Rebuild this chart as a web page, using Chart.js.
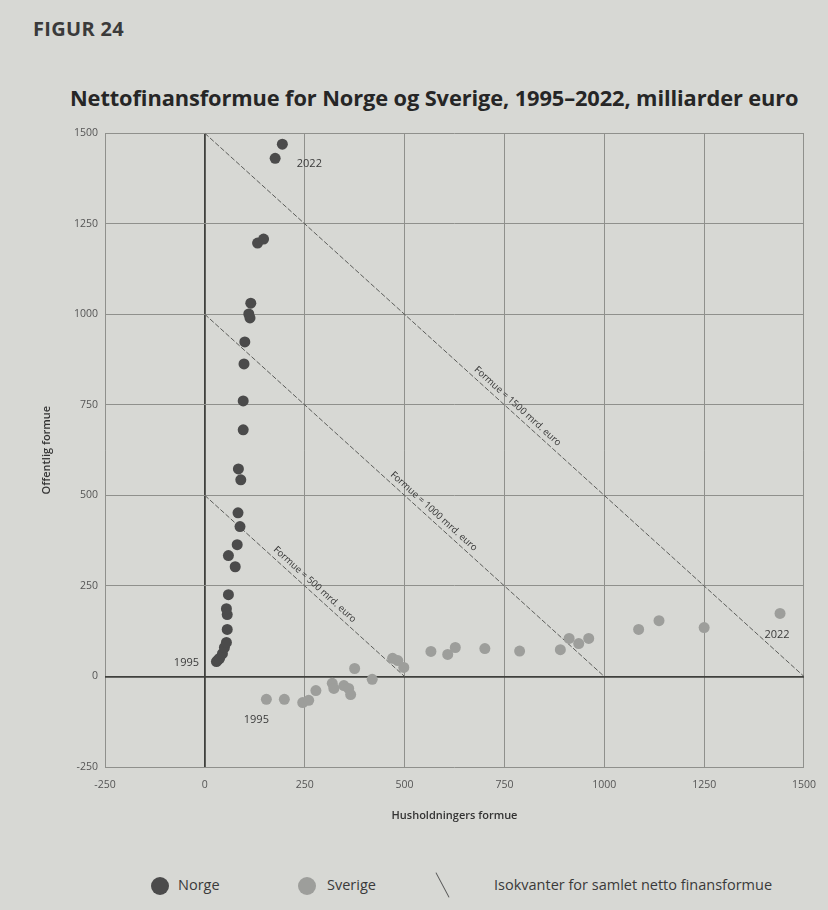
<!DOCTYPE html>
<html>
<head>
<meta charset="utf-8">
<script src="https://cdn.jsdelivr.net/npm/chart.js@4.4.0/dist/chart.umd.min.js"></script>
<style>
  body { margin: 0; width: 828px; height: 910px; overflow: hidden; background: #d7d8d4; font-family: "Open Sans", Lato, sans-serif; position: relative; }
  #fig { position: absolute; left: 33px; top: 15px; font-weight: 700; font-size: 20px; color: #3a3a3a; letter-spacing: 0.3px; }
  #title { position: absolute; left: 70px; top: 83px; font-weight: 700; font-size: 21.8px; color: #262626; white-space: nowrap; letter-spacing: -0.1px; }
  #wrap { position: absolute; left: 0; top: 120px; width: 828px; height: 720px; }
  .lg { position: absolute; top: 875px; font-size: 14.5px; color: #3a3a3a; }
  .dot { position: absolute; width: 18px; height: 18px; border-radius: 50%; top: 877px; }
  #slash { position: absolute; left: 442px; top: 871px; width: 1px; height: 28px; background: #555; transform: rotate(-28deg); }
</style>
</head>
<body>
<div id="fig">FIGUR 24</div>
<div id="title">Nettofinansformue for Norge og Sverige, 1995–2022, milliarder euro</div>
<div id="wrap"><canvas id="chart" width="828" height="720"></canvas></div>
<div class="dot" style="left:151px;background:#4b4b4b"></div>
<div class="lg" style="left:178px">Norge</div>
<div class="dot" style="left:298px;background:#9d9e9b"></div>
<div class="lg" style="left:327px">Sverige</div>
<div id="slash"></div>
<div class="lg" style="left:494px">Isokvanter for samlet netto finansformue</div>
<script>
// Husholdningers formue (x) og offentlig formue (y), milliarder euro, 1995-2022
const norgeX = [29, 33, 37, 44, 49, 54, 56, 56, 54, 59, 76, 59, 81, 88, 83, 90, 84, 96, 96, 98, 100, 113, 110, 115, 132, 147, 176, 194];
const norgeY = [41, 46, 50, 63, 80, 94, 130, 171, 187, 226, 303, 334, 364, 414, 452, 543, 573, 681, 761, 863, 924, 990, 1001, 1031, 1197, 1208, 1431, 1470];
const sverigeX = [154, 199, 245, 260, 278, 319, 323, 348, 360, 365, 375, 419, 470, 483, 498, 566, 608, 627, 701, 788, 890, 912, 936, 961, 1086, 1137, 1250, 1440];
const sverigeY = [-63, -63, -72, -66, -39, -19, -33, -25, -33, -50, 22, -8, 50, 44, 25, 69, 61, 80, 77, 70, 74, 105, 91, 105, 130, 154, 135, 174];
const isokvanter = [500, 1000, 1500];
const isoLabels = ['Formue = 500 mrd. euro', 'Formue = 1000 mrd. euro', 'Formue = 1500 mrd. euro'];
const isoLabelX = [262, 560, 770];
const xTicks = [-250, 0, 250, 500, 750, 1000, 1250, 1500];
const yTicks = [-250, 0, 250, 500, 750, 1000, 1250, 1500];

const toPoints = (xs, ys) => xs.map((x, i) => ({ x: x, y: ys[i] }));

const isoSets = isokvanter.map(v => ({
    type: 'line',
    data: [{ x: 0, y: v }, { x: v, y: 0 }],
    borderColor: '#5c5d5a',
    borderWidth: 1,
    borderDash: [5, 2],
    pointRadius: 0,
    order: 3
}));

// labels on isoquants and year markers
const annotations = {
    id: 'annotations',
    afterDatasetsDraw(chart) {
        const { ctx, scales: { x, y } } = chart;
        ctx.save();
        ctx.fillStyle = '#333';
        ctx.font = '9.5px "Open Sans", sans-serif';
        ctx.textAlign = 'center';
        ctx.textBaseline = 'bottom';
        isokvanter.forEach((v, i) => {
            const ang = Math.atan2(y.getPixelForValue(0) - y.getPixelForValue(v), x.getPixelForValue(v) - x.getPixelForValue(0));
            const lx = isoLabelX[i];
            ctx.save();
            ctx.translate(x.getPixelForValue(lx), y.getPixelForValue(v - lx));
            ctx.rotate(ang);
            ctx.fillText(isoLabels[i], 0, -3);
            ctx.restore();
        });
        ctx.font = '11px "Open Sans", sans-serif';
        ctx.fillStyle = '#3a3a3a';
        ctx.textBaseline = 'middle';
        const n = norgeX.length - 1;
        const s = sverigeX.length - 1;
        ctx.fillText('1995', x.getPixelForValue(norgeX[0]) - 30, y.getPixelForValue(norgeY[0]) + 1);
        ctx.fillText('2022', x.getPixelForValue(norgeX[n]) + 27, y.getPixelForValue(norgeY[n]) + 20);
        ctx.fillText('1995', x.getPixelForValue(sverigeX[0]) - 10, y.getPixelForValue(sverigeY[0]) + 21);
        ctx.fillText('2022', x.getPixelForValue(sverigeX[s]) - 3, y.getPixelForValue(sverigeY[s]) + 21);
        ctx.restore();
    }
};

const gridColor = c => c.tick && c.tick.value === 0 ? '#3f403d' : '#8f908c';
const gridWidth = c => c.tick && c.tick.value === 0 ? 1.8 : 1;
const tickFont = { size: 10.5, family: '"Open Sans"' };
const titleFont = { size: 11, weight: '600', family: '"Open Sans"' };

new Chart(document.getElementById('chart'), {
    type: 'scatter',
    data: {
        datasets: [
            { label: 'Norge', data: toPoints(norgeX, norgeY), backgroundColor: '#4b4b4b', borderWidth: 0, pointRadius: 5.5, order: 1 },
            { label: 'Sverige', data: toPoints(sverigeX, sverigeY), backgroundColor: '#9d9e9b', borderWidth: 0, pointRadius: 5.5, order: 2 },
            ...isoSets
        ]
    },
    options: {
        responsive: false,
        animation: false,
        layout: { padding: { top: 13, right: 21, left: 0, bottom: 0 } },
        plugins: { legend: { display: false }, tooltip: { enabled: false } },
        scales: {
            x: {
                type: 'linear', min: -250, max: 1500,
                afterBuildTicks: s => { s.ticks = xTicks.map(v => ({ value: v })); },
                afterFit: s => { s.height = 73; },
                grid: { color: gridColor, lineWidth: gridWidth, drawTicks: false },
                border: { display: false },
                ticks: { padding: 12, color: '#555', font: tickFont, autoSkip: false, maxRotation: 0, callback: v => String(v) },
                title: { display: true, text: 'Husholdningers formue', color: '#333', font: titleFont, padding: { bottom: 18 } }
            },
            y: {
                type: 'linear', min: -250, max: 1500,
                afterBuildTicks: s => { s.ticks = yTicks.map(v => ({ value: v })); },
                afterFit: s => { s.width = 105; },
                grid: { color: gridColor, lineWidth: gridWidth, drawTicks: false },
                border: { display: false },
                ticks: { padding: 7, color: '#555', font: tickFont, autoSkip: false, callback: v => String(v) },
                title: { display: true, text: 'Offentlig formue', color: '#333', font: titleFont, padding: { top: 40 } }
            }
        }
    },
    plugins: [annotations]
});
</script>
</body>
</html>
